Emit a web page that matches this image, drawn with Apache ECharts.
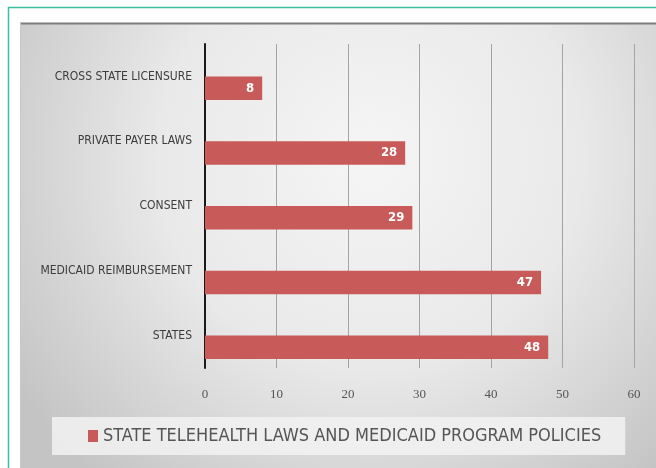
<!DOCTYPE html>
<html>
<head>
<meta charset="utf-8">
<script src="https://cdn.jsdelivr.net/npm/echarts@6/dist/echarts.min.js"></script>
<style>
html,body{margin:0;padding:0;background:#fff;}
#chart{width:656px;height:468px;}
</style>
</head>
<body>
<div id="chart"></div>
<script>
// Data (bottom to top order for the category axis)
var categories = ['STATES', 'MEDICAID REIMBURSEMENT', 'CONSENT', 'PRIVATE PAYER LAWS', 'CROSS STATE LICENSURE'];
var values = [48, 47, 29, 28, 8];
var seriesName = 'STATE TELEHEALTH LAWS AND MEDICAID PROGRAM POLICIES';
var xTicks = [0, 10, 20, 30, 40, 50, 60];
var emptySlot = [null, null, null, null, null];

var narrow = "'Liberation Sans Narrow', 'DejaVu Sans Condensed', 'Noto Sans', sans-serif";

var chart = echarts.init(document.getElementById('chart'), null, {renderer: 'canvas'});
chart.setOption({
  animation: false,
  backgroundColor: '#ffffff',
  graphic: [
    {type: 'rect', z: -10, silent: true,
     shape: {x: 8.5, y: 7.5, width: 700, height: 500},
     style: {fill: '#ffffff', stroke: '#3fbf9f', lineWidth: 1.5}},
    {type: 'rect', z: -9, silent: true,
     shape: {x: 20, y: 23, width: 636, height: 445},
     style: {fill: {type: 'radial', x: 0.55, y: 0.3, r: 0.95,
       colorStops: [{offset: 0, color: '#f5f5f5'}, {offset: 0.5, color: '#e9e9e9'}, {offset: 1, color: '#c4c4c4'}]}}},
    {type: 'line', z: -8, silent: true,
     shape: {x1: 20, y1: 23.5, x2: 656, y2: 23.5},
     style: {stroke: '#7c7c7c', lineWidth: 2}},
    {type: 'line', z: -8, silent: true,
     shape: {x1: 20.5, y1: 23, x2: 20.5, y2: 468},
     style: {stroke: '#c8c8c8', lineWidth: 1}}
  ],
  grid: {left: 205, right: 22, top: 44, bottom: 100, containLabel: false},
  xAxis: {
    type: 'value', min: xTicks[0], max: xTicks[xTicks.length - 1], interval: 10,
    axisLine: {show: false}, axisTick: {show: false},
    axisLabel: {margin: 20, color: '#555', fontFamily: "'Liberation Serif', 'DejaVu Serif', serif", fontSize: 13},
    splitLine: {show: true, lineStyle: {color: '#a4a4a4', width: 1}}
  },
  yAxis: {
    type: 'category', data: categories,
    axisLine: {show: true, lineStyle: {color: '#1a1a1a', width: 2}},
    axisTick: {show: false},
    axisLabel: {margin: 13, color: '#3c3c3c', fontFamily: narrow, fontSize: 12}
  },
  legend: {
    data: [seriesName], left: 52, top: 417,
    backgroundColor: 'rgba(242,242,242,0.85)',
    padding: [10, 24, 10, 36],
    icon: 'rect', itemWidth: 10, itemHeight: 12,
    textStyle: {color: '#555', fontFamily: narrow, fontSize: 18}
  },
  series: [
    {type: 'bar', name: 'slot', data: emptySlot, barWidth: 23.5, barGap: '0%', silent: true},
    {type: 'bar', name: seriesName, data: values, barWidth: 23.5, barGap: '0%',
     itemStyle: {color: '#c85b59'},
     label: {show: true, position: 'insideRight', distance: 8, color: '#fff', fontWeight: 'bold',
       fontFamily: narrow, fontSize: 13}}
  ]
});
</script>
</body>
</html>
